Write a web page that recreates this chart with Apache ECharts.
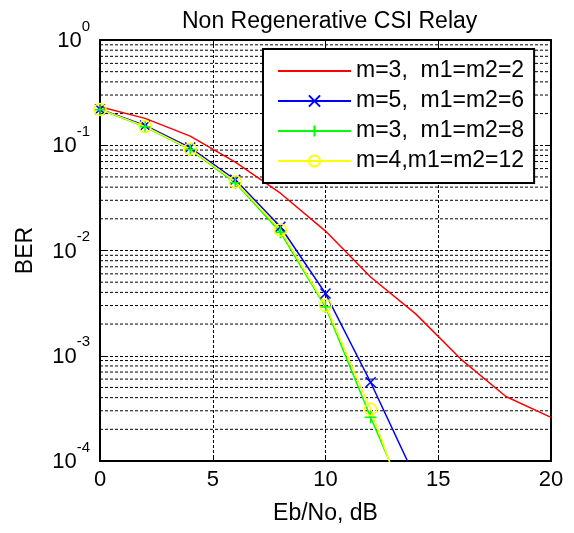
<!DOCTYPE html>
<html>
<head>
<meta charset="utf-8">
<script src="https://cdn.jsdelivr.net/npm/echarts@6/dist/echarts.min.js"></script>
<style>html,body{margin:0;padding:0;background:#fff}#c{width:574px;height:533px}</style>
</head>
<body>
<div id="c"></div>
<script>
var xValues = [0, 2, 4, 6, 8, 10, 12, 14, 16, 18, 20];
var seriesNames = ['m=3,  m1=m2=2', 'm=5,  m1=m2=6', 'm=3,  m1=m2=8', 'm=4,m1=m2=12'];
var redBER    = [0.232, 0.180, 0.122, 0.069, 0.035, 0.0153, 0.0056, 0.0025, 0.00093, 0.00041, 0.00026];
var blueBER   = [0.220, 0.154, 0.095, 0.047, 0.0168, 0.0039, 0.00056, 0.000068];
var greenBER  = [0.218, 0.150, 0.091, 0.044, 0.0149, 0.0029, 0.00026, 0.000026];
var yellowBER = [0.219, 0.151, 0.092, 0.045, 0.0157, 0.0030, 0.00031, 0.000020];
var xTicks = [0, 5, 10, 15, 20];
var yDecades = [1e-4, 1e-3, 1e-2, 1e-1, 1];
var minorMultipliers = [2, 3, 4, 5, 6, 7, 8, 9];

function pairs(vals) { return vals.map(function (v, i) { return [xValues[i], v]; }); }

var X0 = xTicks[0], X1 = xTicks[xTicks.length - 1];
var minorGridData = [];
for (var d = 0; d < yDecades.length - 1; d++) {
  minorMultipliers.forEach(function (m) {
    var v = yDecades[d] * m;
    minorGridData.push([X0, v], [X1, v], ['-', '-']);
  });
}

var FONT = 'Liberation Sans, Arial, sans-serif';
var gridDash = { color: '#000', width: 1, type: [3, 2] };

var chart = echarts.init(document.getElementById('c'), null, { renderer: 'canvas' });
chart.setOption({
  animation: false,
  backgroundColor: '#fff',
  textStyle: { fontFamily: FONT },
  title: {
    text: 'Non Regenerative CSI Relay',
    left: 177, top: 5,
    textStyle: { fontFamily: FONT, fontSize: 23, fontWeight: 'normal', color: '#000' }
  },
  grid: { left: 100, right: 23, top: 40, bottom: 72 },
  legend: {
    orient: 'vertical',
    left: 263, top: 49,
    padding: [10, 10, 10, 14],
    itemWidth: 73, itemHeight: 14, itemGap: 6,
    backgroundColor: '#fff',
    borderColor: '#000', borderWidth: 2,
    textStyle: { fontFamily: FONT, fontSize: 23, color: '#000', lineHeight: 24 },
    data: [
      { name: seriesNames[0], itemStyle: { opacity: 0 } },
      seriesNames[1], seriesNames[2], seriesNames[3]
    ]
  },
  xAxis: [{
    type: 'value', min: X0, max: X1, interval: 5, position: 'bottom',
    name: 'Eb/No, dB', nameLocation: 'middle', nameGap: 41,
    nameTextStyle: { fontFamily: FONT, fontSize: 23, color: '#000' },
    axisLine: { show: true, onZero: false, lineStyle: { color: '#000', width: 2 } },
    axisTick: { show: true, inside: true, length: 5, lineStyle: { color: '#000', width: 1 } },
    axisLabel: { fontFamily: FONT, fontSize: 22, color: '#000', margin: 8 },
    splitLine: { show: true, lineStyle: gridDash }
  }, {
    type: 'value', min: X0, max: X1, interval: 5, position: 'top',
    axisLine: { show: true, onZero: false, lineStyle: { color: '#000', width: 2 } },
    axisTick: { show: true, inside: true, length: 5, lineStyle: { color: '#000', width: 1 } },
    axisLabel: { show: false },
    splitLine: { show: false }
  }],
  yAxis: [{
    type: 'log', logBase: 10, min: 1e-4, max: 1, position: 'left',
    name: 'BER', nameLocation: 'middle', nameGap: 63, nameRotate: 90,
    nameTextStyle: { fontFamily: FONT, fontSize: 23, color: '#000' },
    axisLine: { show: true, onZero: false, lineStyle: { color: '#000', width: 2 } },
    axisTick: { show: true, inside: true, length: 5, lineStyle: { color: '#000', width: 1 } },
    axisLabel: {
      margin: 10,
      formatter: function (v) {
        var e = Math.round(Math.log10(v));
        return '{b|10}{s|' + e + '}';
      },
      rich: {
        b: { fontFamily: FONT, fontSize: 22, color: '#000', verticalAlign: 'bottom', padding: [0, 0, 9, 0] },
        s: { fontFamily: FONT, fontSize: 15, color: '#000', verticalAlign: 'bottom', padding: [0, 0, 27, 0] }
      }
    },
    splitLine: { show: true, lineStyle: gridDash }
  }, {
    type: 'log', logBase: 10, min: 1e-4, max: 1, position: 'right',
    axisLine: { show: true, onZero: false, lineStyle: { color: '#000', width: 2 } },
    axisTick: { show: true, inside: true, length: 5, lineStyle: { color: '#000', width: 1 } },
    axisLabel: { show: false },
    splitLine: { show: false }
  }],
  series: [
    {
      name: 'minor-grid', type: 'line', silent: true, z: 1,
      data: minorGridData, connectNulls: false,
      symbol: 'none', showSymbol: false,
      lineStyle: { color: '#000', width: 1, type: [3, 2] },
      emphasis: { disabled: true }
    },
    {
      name: seriesNames[0], type: 'line', data: pairs(redBER),
      symbol: 'none', showSymbol: false,
      lineStyle: { color: '#ff0000', width: 1.5 },
      itemStyle: { color: '#ff0000' }
    },
    {
      name: seriesNames[1], type: 'line', data: pairs(blueBER),
      symbol: 'path://M0,0L10,10M10,0L0,10', symbolSize: 10,
      lineStyle: { color: '#0000ff', width: 1.5 },
      itemStyle: { color: '#0000ff', borderColor: '#0000ff', borderWidth: 1.5 }
    },
    {
      name: seriesNames[2], type: 'line', data: pairs(greenBER),
      symbol: 'path://M5,0L5,10M0,5L10,5', symbolSize: 12,
      lineStyle: { color: '#00ff00', width: 1.5 },
      itemStyle: { color: '#00ff00', borderColor: '#00ff00', borderWidth: 1.5 }
    },
    {
      name: seriesNames[3], type: 'line', data: pairs(yellowBER),
      symbol: 'circle', symbolSize: 12,
      lineStyle: { color: '#ffff00', width: 1.5 },
      itemStyle: { color: 'rgba(255,255,0,0)', borderColor: '#ffff00', borderWidth: 1.5 }
    }
  ]
});
</script>
</body>
</html>
